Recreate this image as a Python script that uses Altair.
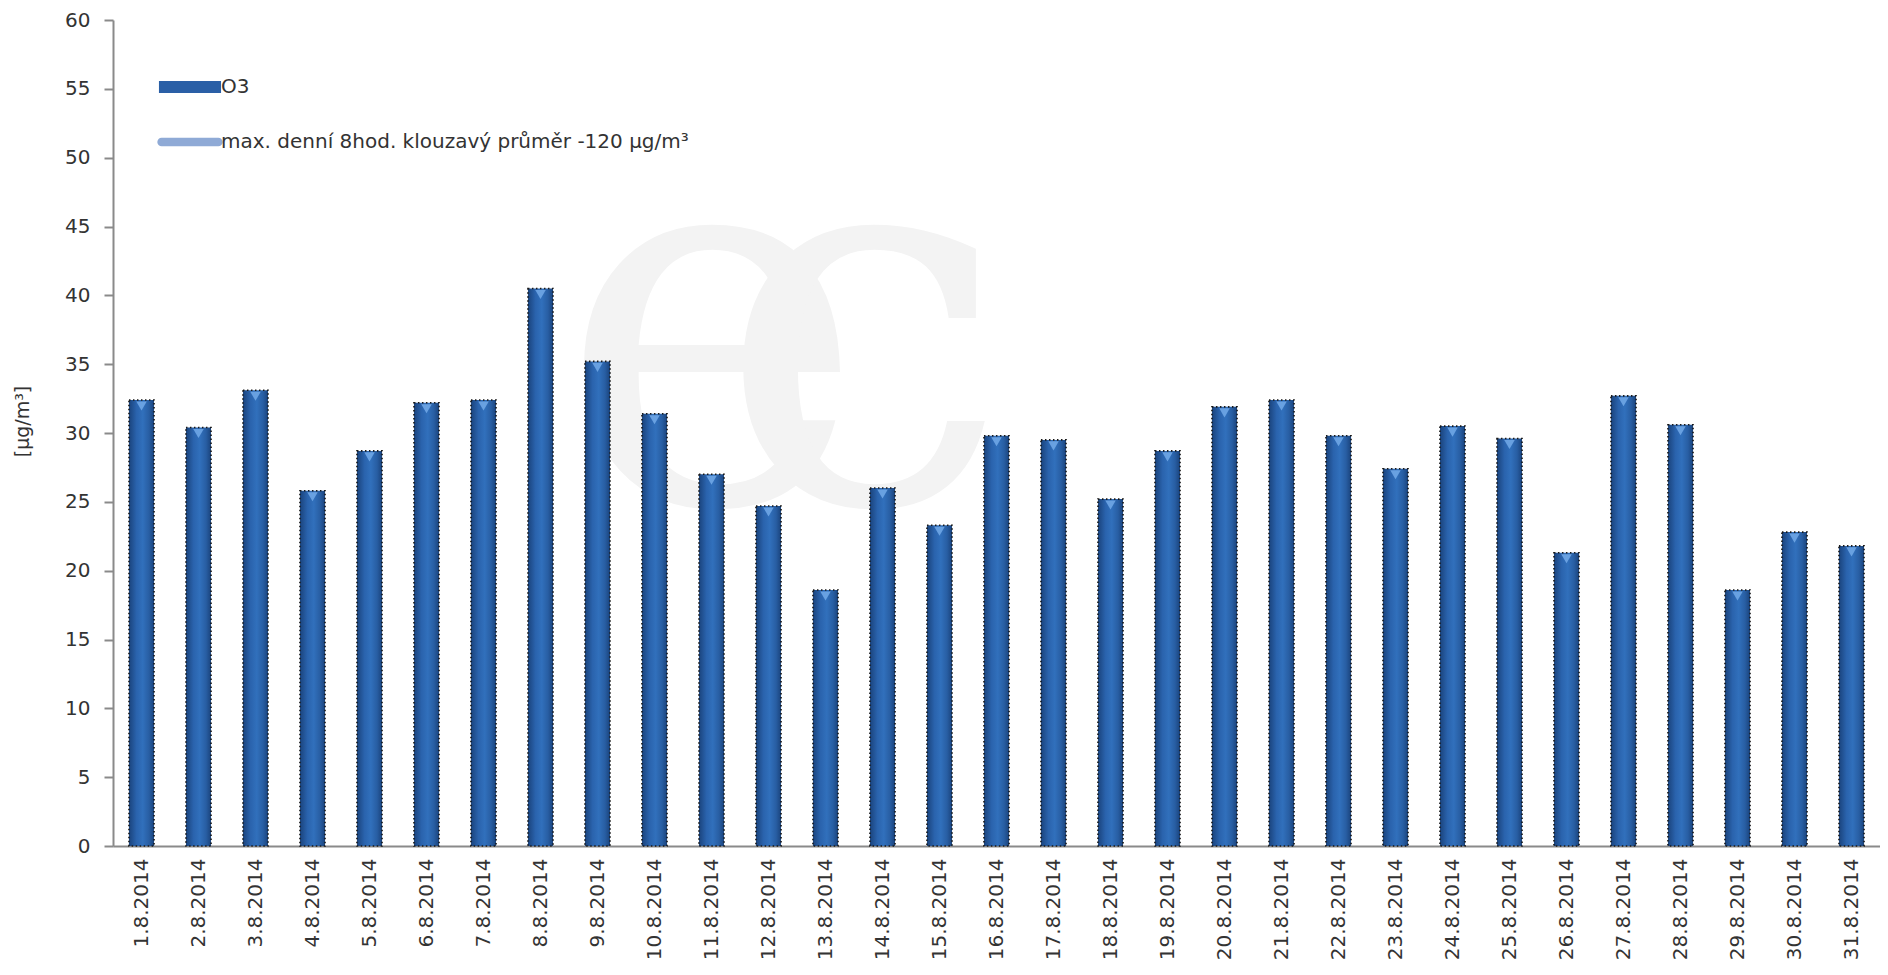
import altair as alt
import pandas as pd

dates = [f"{d}.8.2014" for d in range(1, 32)]
o3 = [32.4, 30.4, 33.1, 25.8, 28.7, 32.2, 32.4, 40.5, 35.2, 31.4,
      27.0, 24.7, 18.6, 26.0, 23.3, 29.8, 29.5, 25.2, 28.7, 31.9,
      32.4, 29.8, 27.4, 30.5, 29.6, 21.3, 32.7, 30.6, 18.6, 22.8, 21.8]
series_names = ["O3", "max. denní 8hod. klouzavý průměr -120 µg/m³"]
series_colors = ["#2A5FA6", "#8FAAD6"]
y_ticks = list(range(0, 61, 5))

df = pd.DataFrame({"date": dates, "value": o3})
legend_df = pd.DataFrame({"series": series_names})

FONT = "DejaVu Sans"
W, H = 1767, 826

x_enc = alt.X("date:N", sort=dates, title=None,
              scale=alt.Scale(paddingInner=0.56, paddingOuter=0.28),
              axis=alt.Axis(labelAngle=270, labelAlign="right", labelBaseline="middle",
                            labelPadding=12, labelFontSize=20, labelFont=FONT,
                            labelColor="#333333", ticks=False, domainColor="#8a8a8a",
                            domainWidth=2, grid=False))
y_enc = alt.Y("value:Q", title="[µg/m³]",
              scale=alt.Scale(domain=[0, 60], nice=False),
              axis=alt.Axis(values=y_ticks, tickSize=9, tickColor="#8a8a8a", tickWidth=2,
                            domainColor="#8a8a8a", domainWidth=2, labelPadding=14,
                            labelFontSize=20, labelFont=FONT, labelColor="#333333",
                            titleFont=FONT, titleFontSize=19, titleFontWeight="normal",
                            titleColor="#333333", titleX=-91, titleY=401,
                            titleBaseline="middle", titleAngle=270, grid=False))

# faint watermark logo
wm_e = alt.Chart(legend_df.head(1)).mark_text(
    text="e", font="DejaVu Serif", fontSize=520, color="#f3f3f3",
    align="center", baseline="alphabetic").encode(x=alt.value(599), y=alt.value(482))
wm_c = alt.Chart(legend_df.head(1)).mark_text(
    text="c", font="DejaVu Serif", fontSize=520, color="#f3f3f3",
    align="center", baseline="alphabetic").encode(x=alt.value(750), y=alt.value(482))

grad = alt.Gradient(gradient="linear", x1=0, x2=1, y1=0, y2=0, stops=[
    alt.GradientStop(offset=0, color="#1A437C"),
    alt.GradientStop(offset=0.3, color="#2A63AD"),
    alt.GradientStop(offset=0.55, color="#3170BC"),
    alt.GradientStop(offset=0.8, color="#285EA3"),
    alt.GradientStop(offset=1, color="#1A437C"),
])

bars = alt.Chart(df).mark_bar(fill=grad, stroke="#1a1a1a", strokeWidth=1.6,
                              strokeDash=[1.5, 2.5]).encode(x=x_enc, y=y_enc)

caps = alt.Chart(df).mark_point(shape="triangle-down", filled=True, color="#6FA6E6",
                                size=110, opacity=0.9, yOffset=6).encode(
    x=alt.X("date:N", sort=dates), y="value:Q")

path_bar = "M-1.15,-0.22H1.15V0.22H-1.15Z"
path_line = ("M-1.05,-0.16H1.05A0.16,0.16 0 0 1 1.05,0.16"
             "H-1.05A0.16,0.16 0 0 1 -1.05,-0.16Z")

legend_layer = alt.Chart(legend_df).mark_point(filled=True, size=0, opacity=1).encode(
    color=alt.Color("series:N", sort=series_names, title=None,
                    scale=alt.Scale(domain=series_names, range=series_colors),
                    legend=alt.Legend(orient="none", legendX=50, legendY=40,
                                      symbolSize=2916, labelFont=FONT, labelFontSize=20,
                                      labelColor="#333333", labelOffset=4, rowPadding=18,
                                      padding=0, symbolStrokeWidth=0, symbolOpacity=1,
                                      labelLimit=800)),
    shape=alt.Shape("series:N", sort=series_names, title=None,
                    scale=alt.Scale(domain=series_names, range=[path_bar, path_line])),
)

chart = alt.layer(wm_e, wm_c, bars, caps, legend_layer).properties(
    width=W, height=H,
    background="white",
    autosize=alt.AutoSizeParams(type="none"),
    padding={"left": 105, "top": 12, "right": 0, "bottom": 121},
).configure_view(stroke=None)

chart.save("out.html", embed_options={"renderer": "svg", "actions": False})
